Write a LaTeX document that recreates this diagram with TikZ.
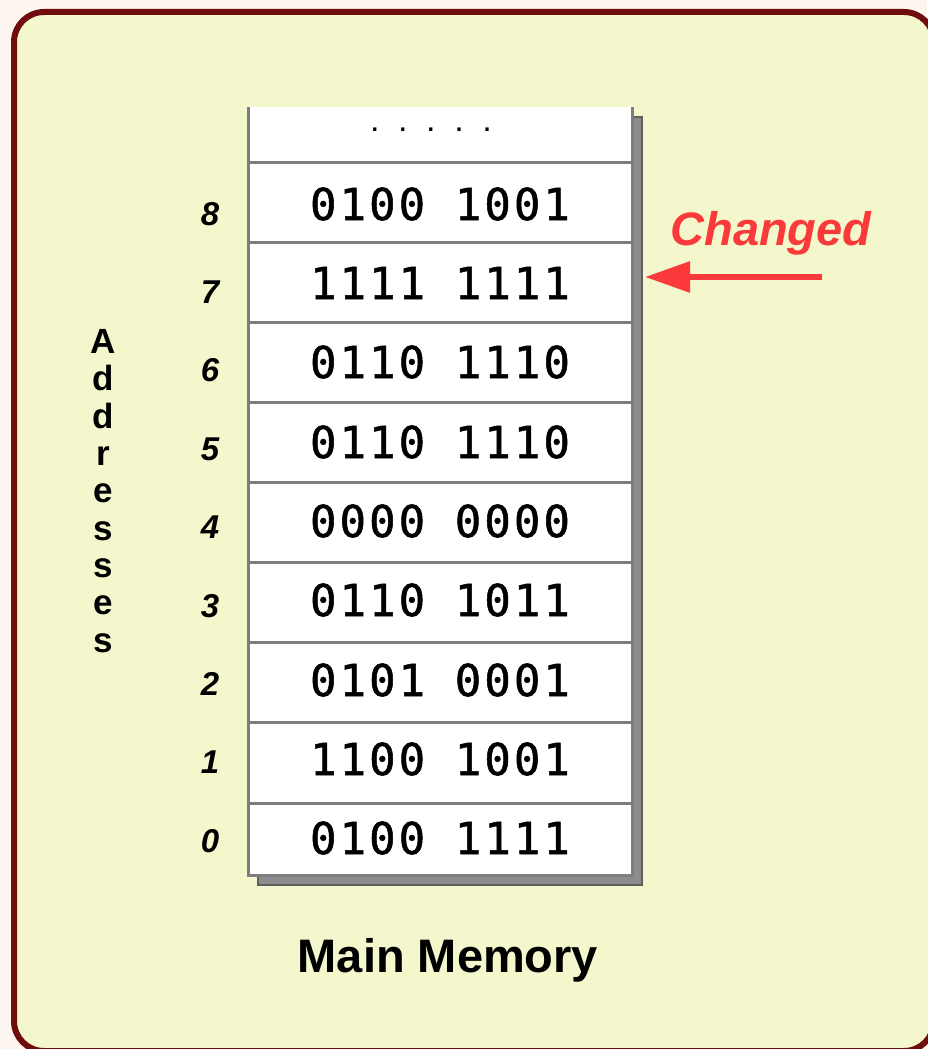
\documentclass[tikz,border=0pt]{standalone}
\usepackage{fontspec}
\setmainfont{Liberation Sans}
\newfontfamily\memfont[LetterSpace=7,FakeBold=1.2]{DejaVu Sans Mono}
\newfontfamily\dotfont{DejaVu Sans Mono}
\usetikzlibrary{arrows.meta}

\definecolor{pagebg}{RGB}{253,245,240}
\definecolor{panel}{RGB}{244,246,204}
\definecolor{framecol}{RGB}{110,12,14}
\definecolor{cellline}{RGB}{125,125,125}
\definecolor{shadowfill}{RGB}{140,140,140}
\definecolor{shadowline}{RGB}{95,95,95}
\definecolor{alert}{RGB}{250,58,58}

\tikzset{
  cellword/.style={inner sep=0pt, anchor=center,
    font=\memfont\fontsize{44}{44}\selectfont},
  addrnum/.style={inner sep=0pt, anchor=base,
    font=\bfseries\itshape\fontsize{33}{33}\selectfont},
  sepline/.style={draw=cellline, line width=3pt},
  title/.style={inner sep=0pt, anchor=base,
    font=\bfseries\fontsize{47}{47}\selectfont},
}

\begin{document}
\begin{tikzpicture}[x=1pt,y=-1pt]
  % page and rounded panel
  \fill[pagebg] (0,0) rectangle (927,1049);
  \useasboundingbox (0,0) rectangle (927,1049);
  \draw[line width=6pt, draw=framecol, fill=panel, rounded corners=30pt]
    (14,12) rectangle (934,1051);

  % memory column: drop shadow, white body, outline
  \draw[fill=shadowfill, draw=shadowline, line width=2pt] (258,117) rectangle (642,885);
  \fill[white] (248,107) rectangle (632,875);
  \draw[sepline] (248,107) -- (248,875) -- (632,875) -- (632,107);
  \foreach \y in {162,242,322,402,482,562,642,722,803}
    \draw[sepline] (248,\y) -- (632,\y);

  % contents of the cells
  \node[inner sep=0pt, anchor=base, font=\dotfont\bfseries\fontsize{20}{20}\selectfont]
    (dots) at (431,131) {. . . . .};
  \node[cellword] (m8) at (440,204) {0100 1001};
  \node[cellword] (m7) at (440,283) {1111 1111};
  \node[cellword] (m6) at (440,362) {0110 1110};
  \node[cellword] (m5) at (440,442) {0110 1110};
  \node[cellword] (m4) at (440,521) {0000 0000};
  \node[cellword] (m3) at (440,600) {0110 1011};
  \node[cellword] (m2) at (440,680) {0101 0001};
  \node[cellword] (m1) at (440,759) {1100 1001};
  \node[cellword] (m0) at (440,838) {0100 1111};

  % address numbers
  \node[addrnum] (a8) at (210,225.0) {8};
  \node[addrnum] (a7) at (210,303.4) {7};
  \node[addrnum] (a6) at (210,381.8) {6};
  \node[addrnum] (a5) at (210,460.2) {5};
  \node[addrnum] (a4) at (210,538.6) {4};
  \node[addrnum] (a3) at (210,617.0) {3};
  \node[addrnum] (a2) at (210,695.4) {2};
  \node[addrnum] (a1) at (210,773.8) {1};
  \node[addrnum] (a0) at (210,852.2) {0};

  % vertical axis caption
  \node[inner sep=0pt, align=center, font=\bfseries\fontsize{35}{37.3}\selectfont]
    (addr) at (103,491) {A\\d\\d\\r\\e\\s\\s\\e\\s};

  % change marker
  \node[inner sep=0pt, anchor=base, text=alert,
    font=\bfseries\itshape\fontsize{47}{47}\selectfont] (chg) at (771,245) {Changed};
  \coordinate (chgtail) at (822,277);
  \coordinate (chghead) at (645,277);
  \draw[alert, line width=6pt, -{Triangle[length=45pt,width=30pt]}] (chgtail) -- (chghead);

  % caption
  \node[title] (mm) at (448,972) {Main Memory};
\end{tikzpicture}
\end{document}
